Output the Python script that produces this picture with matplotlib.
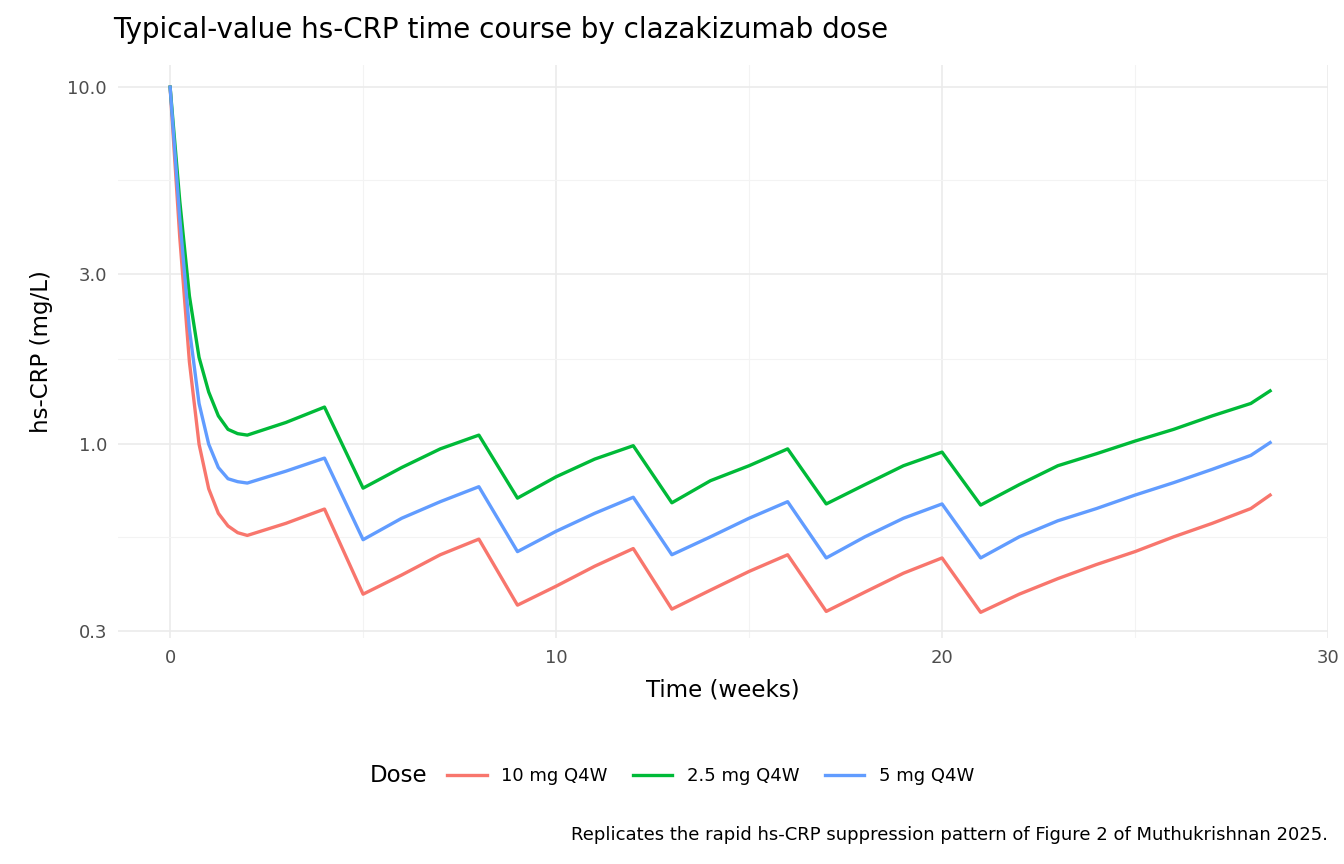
import matplotlib.pyplot as plt
from matplotlib.ticker import FixedLocator, NullFormatter
from matplotlib.offsetbox import HPacker

weeks = [0, 0.25, 0.5, 0.75, 1, 1.25, 1.5, 1.75, 2, 3, 4,
         5, 6, 7, 8, 9, 10, 11, 12, 13, 14, 15, 16,
         17, 18, 19, 20, 21, 22, 23, 24, 25, 26, 27, 28, 28.5]

crp_10mg = [10, 3.8, 1.7, 1.0, 0.75, 0.64, 0.59, 0.565, 0.555, 0.6, 0.658,
            0.38, 0.43, 0.49, 0.542, 0.354, 0.4, 0.455, 0.51, 0.345, 0.39, 0.44, 0.49,
            0.34, 0.385, 0.435, 0.48, 0.338, 0.38, 0.42, 0.46, 0.5, 0.55, 0.6, 0.66, 0.72]
crp_25mg = [10, 4.8, 2.6, 1.75, 1.4, 1.2, 1.1, 1.07, 1.06, 1.15, 1.27,
            0.753, 0.86, 0.97, 1.06, 0.706, 0.81, 0.908, 0.99, 0.685, 0.79, 0.87, 0.97,
            0.68, 0.77, 0.87, 0.95, 0.675, 0.77, 0.87, 0.94, 1.02, 1.1, 1.2, 1.3, 1.41]
crp_5mg = [10, 4.3, 2.1, 1.3, 1.0, 0.86, 0.8, 0.785, 0.778, 0.84, 0.914,
           0.54, 0.62, 0.69, 0.76, 0.50, 0.57, 0.64, 0.71, 0.49, 0.55, 0.62, 0.69,
           0.48, 0.55, 0.62, 0.68, 0.48, 0.55, 0.61, 0.66, 0.72, 0.78, 0.85, 0.93, 1.01]

series = [("10 mg Q4W", crp_10mg, "#F8766D"),
          ("2.5 mg Q4W", crp_25mg, "#00BA38"),
          ("5 mg Q4W", crp_5mg, "#619CFF")]

fig = plt.figure(figsize=(13.44, 8.64), dpi=100)
ax = fig.add_axes([118/1344, 1 - 638/864, (1328-118)/1344, (638-65)/864])

for label, vals, col in series:
    ax.plot(weeks, vals, color=col, lw=2.4, label=label)

ax.set_yscale("log")
ax.set_xlim(-1.35, 29.96)
ax.set_ylim(10**-0.543, 10**1.062)
ax.yaxis.set_major_locator(FixedLocator([0.3, 1, 3, 10]))
ax.yaxis.set_minor_locator(FixedLocator([10**-0.261, 10**0.239, 10**0.739]))
ax.yaxis.set_minor_formatter(NullFormatter())
ax.set_yticklabels(["0.3", "1.0", "3.0", "10.0"])
ax.set_xticks([0, 10, 20, 30])
ax.set_xticks([5, 15, 25], minor=True)

ax.grid(which="major", color="#EBEBEB", lw=1.2)
ax.grid(which="minor", color="#F3F3F3", lw=0.8)
ax.set_axisbelow(True)
for s in ax.spines.values():
    s.set_visible(False)
ax.tick_params(which="both", length=0, labelsize=13, labelcolor="#4D4D4D", pad=8)

ax.set_xlabel("Time (weeks)", fontsize=16.5, labelpad=8)
ax.set_ylabel("hs-CRP (mg/L)", fontsize=16.5, labelpad=10)
fig.text(113/1344, 1 - 30/864, "Typical-value hs-CRP time course by clazakizumab dose",
         fontsize=20, va="center", ha="left")

leg = fig.legend(loc="center", bbox_to_anchor=(0.5, 1 - 776/864), ncol=3, frameon=False,
                 title="Dose", fontsize=13, title_fontsize=16.5, handlelength=2.2,
                 columnspacing=1.4)
# put legend title to the left of the entries
lb = leg._legend_box
lb.__class__ = HPacker
lb.align = "center"
lb.sep = 14

fig.text(1328/1344, 1 - 835/864,
         "Replicates the rapid hs-CRP suppression pattern of Figure 2 of Muthukrishnan 2025.",
         fontsize=13, ha="right", va="center")

fig.savefig("out.png", dpi=100)
